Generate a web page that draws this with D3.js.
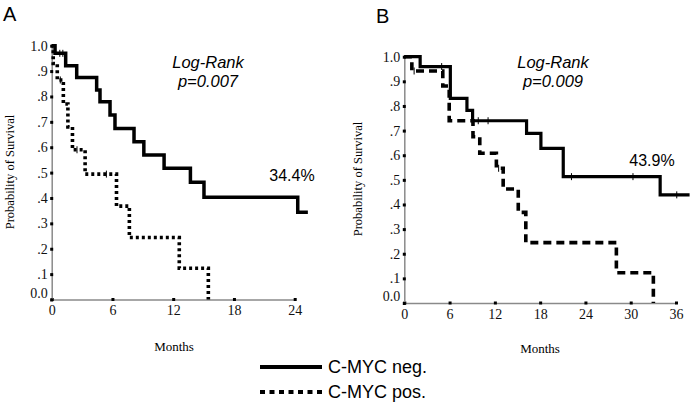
<!DOCTYPE html>
<html>
<head>
<meta charset="utf-8">
<script src="https://cdn.jsdelivr.net/npm/d3@7"></script>
<style>
  body { margin: 0; background: #fff; }
  svg { display: block; }
</style>
</head>
<body>
<script>
// x tick values (months) and y tick values for each panel
const monthsA = [0, 6, 12, 18, 24]
const monthsB = [0, 6, 12, 18, 24, 30, 36]
const survTicks = [0, 0.1, 0.2, 0.3, 0.4, 0.5, 0.6, 0.7, 0.8, 0.9, 1.0]

// panel A, C-MYC neg.
const timeANeg = [0, 0.33, 1.38, 2.47, 4.44, 4.77, 5.76, 6.25, 8.13, 9.1, 11.1, 13.7, 15.04, 24.3, 25.3]
const survANeg = [1.0, 0.97, 0.921, 0.875, 0.825, 0.779, 0.727, 0.674, 0.622, 0.569, 0.517, 0.462, 0.403, 0.344, 0.344]
const censorANeg = [0.8, 1.1]
// panel A, C-MYC pos.
const timeAPos = [0, 0.15, 0.55, 1.15, 1.6, 2.05, 3.3, 6.4, 7.67, 12.6, 15.47]
const survAPos = [1.0, 0.93, 0.865, 0.77, 0.68, 0.59, 0.494, 0.368, 0.244, 0.123, 0]
const censorAPos = [0.85, 2.5, 5.4]

// panel B, C-MYC neg.
const timeBNeg = [0, 2.1, 6.1, 8.3, 9.05, 16.2, 18.1, 21.06, 33.9, 37.8]
const survBNeg = [1.0, 0.96, 0.831, 0.782, 0.74, 0.689, 0.628, 0.513, 0.439, 0.439]
const censorBNeg = [4.95, 9.8, 11.1, 22.15, 30.3, 36.1]
// panel B, C-MYC pos.
const timeBPos = [0, 1.0, 5.1, 5.95, 9.1, 10.0, 12.2, 13.1, 15.1, 16.1, 28.1, 33.0]
const survBPos = [1.0, 0.942, 0.881, 0.74, 0.675, 0.608, 0.547, 0.463, 0.368, 0.245, 0.123, 0]
const censorBPos = [1.3, 12.5]

const serif = "'Liberation Serif', 'Times New Roman', serif"
const sans = "'Liberation Sans', Arial, sans-serif"

const svg = d3.select("body").append("svg").attr("width", 690).attr("height", 402)

const yFmt = (d) => (d === 0 ? "0.0" : d === 1 ? "1.0" : d3.format(".1f")(d).replace(/^0/, ""))

function panel(p) {
  const x = d3.scaleLinear().domain(p.xDomain).range(p.xRange)
  const y = d3.scaleLinear().domain([0, 1]).range(p.yRange)
  const g = svg.append("g")

  // axes
  const xAxis = g.append("g")
    .attr("transform", `translate(0,${p.yRange[0]})`)
    .call(d3.axisBottom(x).tickValues(p.months).tickSize(0).tickSizeOuter(0).tickPadding(6))
  const yAxis = g.append("g")
    .attr("transform", `translate(${p.xRange[0]},0)`)
    .call(d3.axisLeft(y).tickValues(survTicks).tickFormat(yFmt).tickSize(0).tickSizeOuter(0).tickPadding(4))

  for (const ax of [xAxis, yAxis]) {
    ax.select(".domain").attr("stroke", "#8a8a8a").attr("stroke-width", 1.5)
    ax.selectAll("text").attr("font-family", serif).attr("font-size", 14).attr("fill", "#111")
  }
  yAxis.selectAll(".tick text").filter((d) => d === 0).attr("dy", "-0.15em")

  // little square tick marks
  xAxis.selectAll(".tick").append("rect").attr("x", -1.5).attr("y", -1.5).attr("width", 3).attr("height", 3).attr("fill", "#000")
  yAxis.selectAll(".tick").append("rect").attr("x", -1.5).attr("y", -1.5).attr("width", 3).attr("height", 3).attr("fill", "#000")

  const line = d3.line().x((d) => x(d[0])).y((d) => y(d[1])).curve(d3.curveStepAfter)

  for (const c of p.curves) {
    const pts = d3.zip(c.t, c.s)
    g.append("path")
      .attr("d", line(pts))
      .attr("fill", "none")
      .attr("stroke", "#000")
      .attr("stroke-width", c.w)
      .attr("stroke-dasharray", c.dash)
      .attr("stroke-linejoin", "miter")

    // censoring marks
    const step = (t) => c.s[d3.bisectRight(c.t, t) - 1]
    g.selectAll(null)
      .data(c.censor)
      .join("line")
      .attr("x1", (d) => x(d))
      .attr("x2", (d) => x(d))
      .attr("y1", (d) => y(step(d)) - 3.5)
      .attr("y2", (d) => y(step(d)) + 3.5)
      .attr("stroke", "#000")
      .attr("stroke-width", 1)
  }

  // labels
  g.append("text")
    .attr("x", p.letter[0]).attr("y", p.letter[1])
    .attr("font-family", sans).attr("font-size", 20).text(p.name)

  g.append("text")
    .attr("x", p.lr[0]).attr("y", p.lr[1])
    .attr("text-anchor", "middle").attr("font-family", sans).attr("font-style", "italic").attr("font-size", 16.5)
    .text("Log-Rank")
  g.append("text")
    .attr("x", p.lr[0]).attr("y", p.lr[1] + 19)
    .attr("text-anchor", "middle").attr("font-family", sans).attr("font-style", "italic").attr("font-size", 16.5)
    .text(p.pval)

  g.append("text")
    .attr("x", p.pct[0]).attr("y", p.pct[1])
    .attr("text-anchor", "middle").attr("font-family", sans).attr("font-size", 16)
    .text(p.pctText)

  g.append("text")
    .attr("transform", `translate(${p.ytitle[0]},${p.ytitle[1]}) rotate(-90)`)
    .attr("text-anchor", "middle").attr("font-family", serif).attr("font-size", 12.5)
    .text("Probability of Survival")

  g.append("text")
    .attr("x", p.xtitle[0]).attr("y", p.xtitle[1])
    .attr("text-anchor", "middle").attr("font-family", serif).attr("font-size", 13)
    .text("Months")
}

panel({
  name: "A", letter: [3, 21],
  xDomain: [0, 24], xRange: [51.7, 294.7], yRange: [299.5, 45.7], months: monthsA,
  curves: [
    { t: timeANeg, s: survANeg, censor: censorANeg, w: 3.5, dash: null },
    { t: timeAPos, s: survAPos, censor: censorAPos, w: 3.6, dash: "3,3" }
  ],
  lr: [208, 68], pval: "p=0.007", pct: [292, 181], pctText: "34.4%",
  ytitle: [14, 172], xtitle: [174, 351]
})

panel({
  name: "B", letter: [376, 23],
  xDomain: [0, 36], xRange: [404.3, 676], yRange: [303, 56.7], months: monthsB,
  curves: [
    { t: timeBNeg, s: survBNeg, censor: censorBNeg, w: 3.2, dash: null },
    { t: timeBPos, s: survBPos, censor: censorBPos, w: 3.6, dash: "8,5" }
  ],
  lr: [553, 68], pval: "p=0.009", pct: [652, 166], pctText: "43.9%",
  ytitle: [362, 179], xtitle: [540, 353]
})

// legend
const legend = svg.append("g").attr("transform", "translate(260,0)")
const legendItems = [
  { label: "C-MYC neg.", dash: null, y: 367 },
  { label: "C-MYC pos.", dash: "5,4.5", y: 392 }
]
legend.selectAll(null).data(legendItems).join("line")
  .attr("x1", 0).attr("x2", 62)
  .attr("y1", (d) => d.y).attr("y2", (d) => d.y)
  .attr("stroke", "#000").attr("stroke-width", 4)
  .attr("stroke-dasharray", (d) => d.dash)
legend.selectAll(null).data(legendItems).join("text")
  .attr("x", 68).attr("y", (d) => d.y + 6)
  .attr("font-family", sans).attr("font-size", 18)
  .text((d) => d.label)
</script>
</body>
</html>
